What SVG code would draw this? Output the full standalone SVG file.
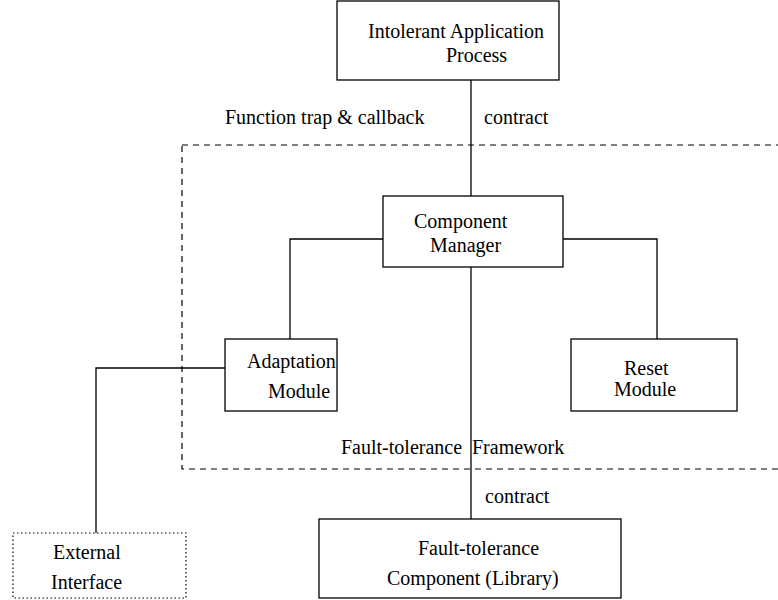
<svg xmlns="http://www.w3.org/2000/svg" width="778" height="600" viewBox="0 0 778 600">
<style>
.box{fill:#fff;stroke:#000;stroke-width:1.3}
.dot{fill:#fff;stroke:#000;stroke-width:1.2;stroke-dasharray:1.5 2.5}
.dash{fill:none;stroke:#000;stroke-width:1.2;stroke-dasharray:6 5}
.ln{fill:none;stroke:#000;stroke-width:1.3}
</style>
<rect width="778" height="600" fill="#fff"/>
<g font-family="Liberation Serif, Times New Roman, serif" font-size="20" fill="#000">
<g id="framework">
<rect class="dash" x="182" y="145" width="620" height="324"/>
<text x="341" y="454">Fault-tolerance</text>
<text x="472" y="454">Framework</text>
</g>
<g id="connectors">
<line class="ln" x1="471" y1="80" x2="471" y2="196"/>
<line class="ln" x1="471" y1="267" x2="471" y2="519"/>
<polyline class="ln" points="383,239 290,239 290,339"/>
<polyline class="ln" points="563,239 657,239 657,339"/>
<polyline class="ln" points="225,368 96,368 96,533"/>
<text x="225" y="124">Function trap &amp; callback</text>
<text x="484" y="124">contract</text>
<text x="485" y="503">contract</text>
</g>
<g id="intolerant">
<rect class="box" x="337" y="1" width="222" height="79"/>
<text x="368" y="38">Intolerant Application</text>
<text x="446" y="62">Process</text>
</g>
<g id="manager">
<rect class="box" x="383" y="196" width="180" height="71"/>
<text x="414" y="228">Component</text>
<text x="430" y="252">Manager</text>
</g>
<g id="adaptation">
<rect class="box" x="225" y="339" width="112" height="72"/>
<text x="247" y="368">Adaptation</text>
<text x="268" y="398">Module</text>
</g>
<g id="reset">
<rect class="box" x="571" y="339" width="166" height="72"/>
<text x="624" y="375">Reset</text>
<text x="614" y="396">Module</text>
</g>
<g id="component">
<rect class="box" x="319" y="519" width="302" height="79"/>
<text x="418" y="555">Fault-tolerance</text>
<text x="387" y="585">Component (Library)</text>
</g>
<g id="external">
<rect class="dot" x="13" y="533" width="173" height="65"/>
<text x="53" y="559">External</text>
<text x="51" y="589">Interface</text>
</g>
</g>
</svg>
